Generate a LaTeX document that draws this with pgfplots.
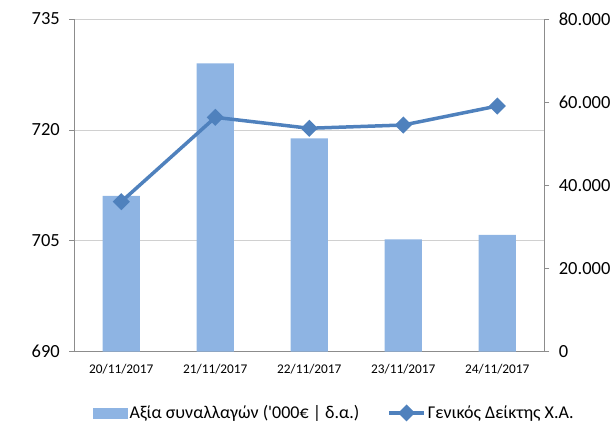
\documentclass[border=0pt]{standalone}
\usepackage{fontspec}
\setmainfont{Carlito}
\usepackage{pgfplots}
\pgfplotsset{compat=1.18}
\definecolor{barcol}{HTML}{8EB4E3}
\definecolor{linecol}{HTML}{4F81BD}
\definecolor{gridcol}{HTML}{D0D0D0}
\definecolor{axcol}{HTML}{8C8C8C}
\begin{document}
\begin{tikzpicture}
\useasboundingbox (-74.3pt,-71.3pt) rectangle (541.7pt,351.7pt);
\begin{axis}[at={(0pt,0pt)}, anchor=south west, scale only axis,
  width=470pt, height=332.7pt,
  xmin=-0.5, xmax=4.5, ymin=0, ymax=80000,
  axis y line*=right, axis x line*=bottom,
  axis line style={axcol, line width=0.8pt},
  tick style={axcol, line width=0.8pt},
  tick align=outside, major tick length=5pt,
  ytick={0,20000,40000,60000,80000},
  scaled y ticks=false,
  /pgf/number format/.cd, 1000 sep={.}, assume math mode=true, /pgfplots/.cd,
  yticklabel style={font=\fontsize{18.5}{20}\selectfont, xshift=6pt},
  xtick={0,1,2,3,4},
  xticklabels={20/11/2017,21/11/2017,22/11/2017,23/11/2017,24/11/2017},
  xticklabel style={font=\fontsize{13.3}{15}\selectfont, yshift=-4pt},
  x tick style={draw=none},
  extra x ticks={-0.5,0.5,1.5,2.5,3.5,4.5},
  extra x tick labels={},
  extra x tick style={tick style={axcol, draw=axcol}, major tick length=5pt},
  extra y ticks={26666.667,53333.333,80000},
  extra y tick labels={},
  extra y tick style={grid=major, major grid style={gridcol, line width=0.8pt}, major tick length=0pt},
]
\addplot[ybar, bar width=37.4pt, fill=barcol, draw=none]
  coordinates {(0,37440) (1,69350) (2,51310) (3,27000) (4,28100)};
\end{axis}
\begin{axis}[at={(0pt,0pt)}, anchor=south west, scale only axis,
  width=470pt, height=332.7pt,
  xmin=-0.5, xmax=4.5, ymin=690, ymax=735,
  axis y line*=left, axis x line=none,
  axis line style={axcol, line width=0.8pt},
  tick style={axcol, line width=0.8pt},
  tick align=outside, major tick length=5pt,
  ytick={690,705,720,735},
  /pgf/number format/assume math mode=true,
  yticklabel style={font=\fontsize{18.5}{20}\selectfont, xshift=-6pt},
  legend style={at={(0.5536,-0.184)}, anchor=center, draw=none, fill=none,
    legend columns=2, font=\fontsize{18}{20}\selectfont,
    /tikz/every even column/.append style={column sep=26pt}},
]
\addlegendimage{legend image code/.code={\fill[barcol] (0pt,-5pt) rectangle (34pt,5pt);}}
\addlegendentry{Αξία συναλλαγών (\textquotesingle000€ | δ.α.)}
\addplot[linecol, line width=3.5pt, mark=square*, mark size=4.3pt, mark options={rotate=45},
  legend image code/.code={\draw[linecol, line width=3.5pt] (0pt,0pt) -- (35pt,0pt);
    \fill[linecol] (17.5pt,6pt) -- (23.5pt,0pt) -- (17.5pt,-6pt) -- (11.5pt,0pt) -- cycle;}]
  coordinates {(0,710.29) (1,721.70) (2,720.22) (3,720.66) (4,723.23)};
\addlegendentry{Γενικός Δείκτης Χ.Α.}
\end{axis}
\end{tikzpicture}
\end{document}
